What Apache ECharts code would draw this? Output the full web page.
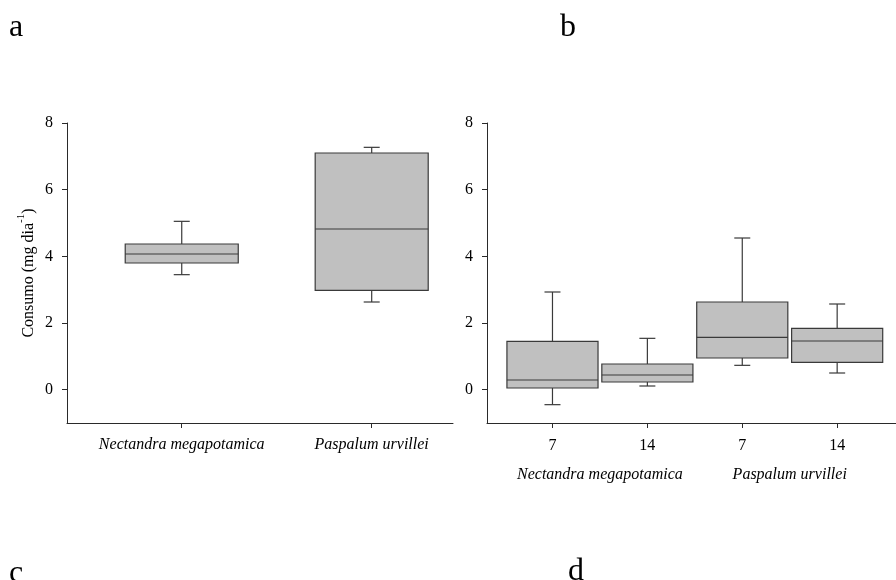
<!DOCTYPE html>
<html><head><meta charset="utf-8">
<script src="https://cdn.jsdelivr.net/npm/echarts@6/dist/echarts.min.js"></script>
<style>html,body{margin:0;padding:0;background:#fff}#c{width:896px;height:580px}</style>
</head><body><div id="c"></div><script>
// ---- Panel a data ----
const speciesA = ['Nectandra megapotamica', 'Paspalum urvillei'];
const aLow  = [3.45, 2.63];
const aQ1   = [3.80, 2.98];
const aMed  = [4.07, 4.82];
const aQ3   = [4.37, 7.10];
const aHigh = [5.05, 7.27];

// ---- Panel b data ----
const bDays   = ['7', '14', '7', '14'];
const bGroups = ['Nectandra megapotamica', 'Paspalum urvillei'];
const bLow  = [-0.45, 0.11, 0.73, 0.50];
const bQ1   = [0.05, 0.23, 0.95, 0.82];
const bMed  = [0.29, 0.44, 1.57, 1.46];
const bQ3   = [1.45, 0.77, 2.63, 1.84];
const bHigh = [2.93, 1.54, 4.55, 2.57];

const yTicks = [0, 2, 4, 6, 8];
const panelLetters = ['a', 'b', 'c', 'd'];

const FONT = "'Liberation Serif','Times New Roman',serif";
const FS = 16;
const FILL = '#c0c0c0';
const STROKE = '#3a3a3a';
const AXIS = '#2a2a2a';

function makeRender(boxW, capPx) {
  return function (params, api) {
    const x = api.value(0);
    const lo = api.coord([x, api.value(1)]);
    const q1 = api.coord([x, api.value(2)]);
    const md = api.coord([x, api.value(3)]);
    const q3 = api.coord([x, api.value(4)]);
    const hi = api.coord([x, api.value(5)]);
    const half = api.size([boxW, 0])[0] / 2;
    const cx = lo[0];
    const ls = { stroke: STROKE, lineWidth: 1.2 };
    return {
      type: 'group', children: [
        { type: 'line', shape: { x1: cx, y1: q3[1], x2: cx, y2: hi[1] }, style: ls },
        { type: 'line', shape: { x1: cx - capPx / 2, y1: hi[1], x2: cx + capPx / 2, y2: hi[1] }, style: ls },
        { type: 'line', shape: { x1: cx, y1: q1[1], x2: cx, y2: lo[1] }, style: ls },
        { type: 'line', shape: { x1: cx - capPx / 2, y1: lo[1], x2: cx + capPx / 2, y2: lo[1] }, style: ls },
        { type: 'rect', shape: { x: cx - half, y: q3[1], width: half * 2, height: q1[1] - q3[1] },
          style: { fill: FILL, stroke: STROKE, lineWidth: 1.2 } },
        { type: 'line', shape: { x1: cx - half, y1: md[1], x2: cx + half, y2: md[1] }, style: ls }
      ]
    };
  };
}

const dataA = speciesA.map((s, i) => [i + 1, aLow[i], aQ1[i], aMed[i], aQ3[i], aHigh[i]]);
const dataB = bDays.map((d, i) => [i + 1, bLow[i], bQ1[i], bMed[i], bQ3[i], bHigh[i]]);

function yAxisCfg(grid, withName) {
  const c = {
    type: 'value', gridIndex: grid, min: -1, max: 8,
    axisLine: { show: true, onZero: false, lineStyle: { color: AXIS, width: 1 } },
    axisTick: { show: true, length: 5, customValues: yTicks, lineStyle: { color: AXIS } },
    axisLabel: { customValues: yTicks, margin: 14, fontFamily: FONT, fontSize: FS, color: '#000' },
    splitLine: { show: false }
  };
  if (withName) {
    c.name = '{n|Consumo (mg dia}{s|-1}{n|)}';
    c.nameLocation = 'middle';
    c.nameRotate = 90;
    c.nameGap = 30;
    c.nameTextStyle = {
      fontFamily: FONT, fontSize: FS, color: '#000',
      rich: {
        n: { fontFamily: FONT, fontSize: FS, color: '#000', lineHeight: 21, verticalAlign: 'bottom' },
        s: { fontFamily: FONT, fontSize: 11, color: '#000', lineHeight: 11, verticalAlign: 'top' }
      }
    };
  }
  return c;
}

const option = {
  animation: false,
  backgroundColor: '#fff',
  grid: [
    { left: 67, top: 123, width: 386, height: 300 },
    { left: 487, top: 123, width: 409, height: 300 }
  ],
  xAxis: [
    {
      type: 'value', gridIndex: 0, min: 0.396, max: 2.428,
      axisLine: { show: true, onZero: false, lineStyle: { color: AXIS, width: 1 } },
      axisTick: { show: true, length: 5, customValues: [1, 2], lineStyle: { color: AXIS } },
      axisLabel: { customValues: [1, 2], margin: 14, fontFamily: FONT, fontSize: FS, fontStyle: 'italic', color: '#000',
        formatter: v => speciesA[Math.round(v) - 1] },
      splitLine: { show: false }
    },
    {
      type: 'value', gridIndex: 1, min: 0.31, max: 4.62,
      axisLine: { show: true, onZero: false, lineStyle: { color: AXIS, width: 1 } },
      axisTick: { show: true, length: 5, customValues: [1, 2, 3, 4], lineStyle: { color: AXIS } },
      axisLabel: { customValues: [1, 2, 3, 4], margin: 15, fontFamily: FONT, fontSize: FS, color: '#000',
        formatter: v => bDays[Math.round(v) - 1] },
      splitLine: { show: false }
    },
    {
      type: 'value', gridIndex: 1, min: 0.31, max: 4.62, position: 'bottom', offset: 29,
      axisLine: { show: false, onZero: false },
      axisTick: { show: false },
      axisLabel: { customValues: [1.5, 3.5], margin: 15, fontFamily: FONT, fontSize: FS, fontStyle: 'italic', color: '#000',
        formatter: v => bGroups[Math.round((v - 1.5) / 2)] },
      splitLine: { show: false }
    }
  ],
  yAxis: [yAxisCfg(0, true), yAxisCfg(1, false)],
  series: [
    { type: 'custom', xAxisIndex: 0, yAxisIndex: 0, data: dataA, renderItem: makeRender(0.595, 16),
      encode: { x: 0, y: [1, 2, 3, 4, 5] } },
    { type: 'custom', xAxisIndex: 1, yAxisIndex: 1, data: dataB, renderItem: makeRender(0.96, 16),
      encode: { x: 0, y: [1, 2, 3, 4, 5] } }
  ],
  graphic: [
    { type: 'text', left: 9, top: 12, style: { text: panelLetters[0], font: '32px ' + FONT, fill: '#000' } },
    { type: 'text', left: 560, top: 12, style: { text: panelLetters[1], font: '32px ' + FONT, fill: '#000' } },
    { type: 'text', left: 9, top: 558, style: { text: panelLetters[2], font: '32px ' + FONT, fill: '#000' } },
    { type: 'text', left: 568, top: 556, style: { text: panelLetters[3], font: '32px ' + FONT, fill: '#000' } }
  ]
};
const chart = echarts.init(document.getElementById('c'));
chart.setOption(option);
</script></body></html>
